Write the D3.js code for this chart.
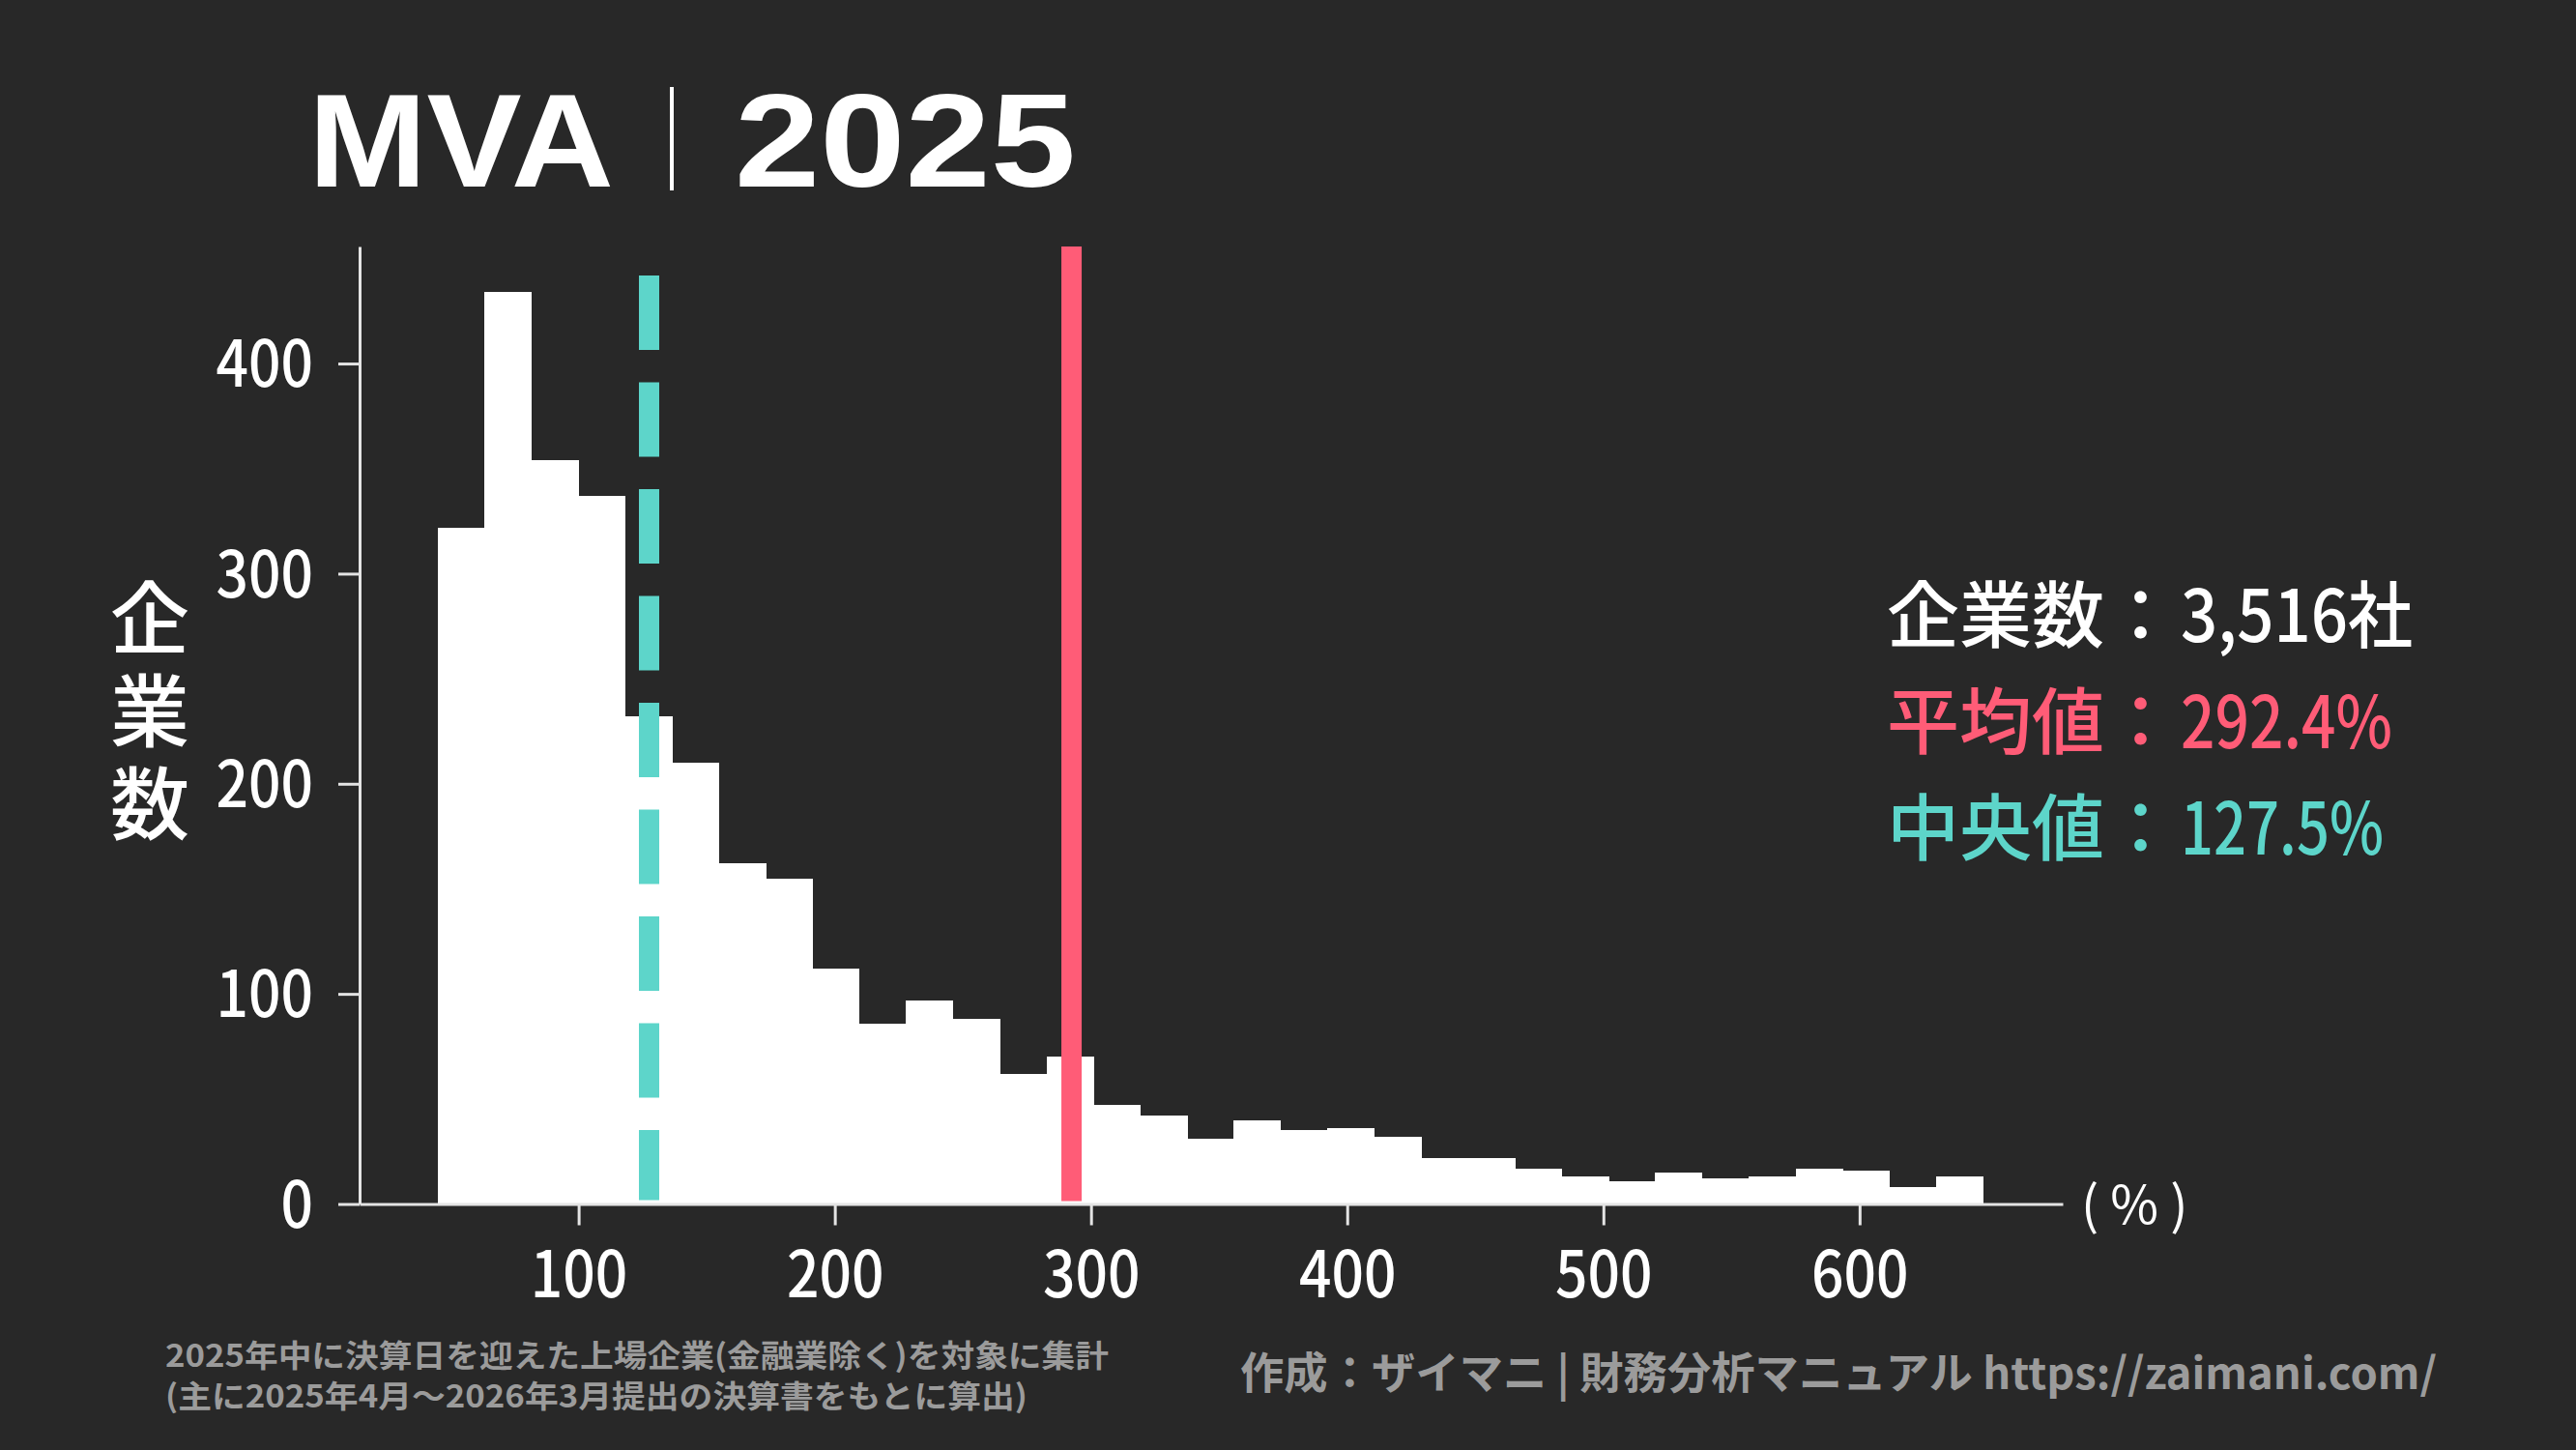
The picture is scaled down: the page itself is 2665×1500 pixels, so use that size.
<!DOCTYPE html>
<html lang="ja">
<head>
<meta charset="utf-8">
<title>MVA 2025</title>
<script src="https://cdn.jsdelivr.net/npm/d3@7"></script>
<style>
  html, body { margin: 0; padding: 0; background: #282828; }
  svg { display: block; }
</style>
</head>
<body>
<svg id="chart" width="2665" height="1500"></svg>
<script>
// ヒストグラムの度数（左から順に33本）
const counts = [322, 434, 354, 337, 232, 210, 162, 155, 112, 86, 97, 88,
                62, 70, 47, 42, 31, 40, 35, 36, 32, 22, 22, 17,
                13, 11, 15, 12, 13, 17, 16, 8, 13];
// ビンの下端と上端（%）
const binRange = [45.0, 648.2];
const xTicks = [100, 200, 300, 400, 500, 600];
const yTicks = [0, 100, 200, 300, 400];
const meanValue = 292.4;
const medianValue = 127.5;
const titleParts = ['MVA', '2025'];
const yLabel = '企業数';
const statLabels = ['企業数：', '平均値：', '中央値：'];
const statValues = ['3,516社', '292.4%', '127.5%'];
const noteLines = ['2025年中に決算日を迎えた上場企業(金融業除く)を対象に集計',
                   '(主に2025年4月～2026年3月提出の決算書をもとに算出)'];
const creditText = '作成：ザイマニ | 財務分析マニュアル https://zaimani.com/';

const JP = '"Noto Sans CJK JP", "Noto Sans", sans-serif';
const WHITE = '#ffffff';
const RED = '#ff5c77';
const TEAL = '#5dd5ca';
const GREY = '#9b9b9b';

const svg = d3.select('#chart');
svg.append('rect').attr('width', 2665).attr('height', 1500).attr('fill', '#282828');

// 軸の範囲
const x = d3.scaleLinear().domain([14.5, 679.3]).range([372, 2134]);
const y = d3.scaleLinear().domain([0, 455.7]).range([1245.5, 255]);

// ビン
const binW = (binRange[1] - binRange[0]) / counts.length;
const bins = counts.map((c, i) => ({ x0: binRange[0] + i * binW, x1: binRange[0] + (i + 1) * binW, c }));

svg.append('g').selectAll('rect')
  .data(bins)
  .join('rect')
  .attr('x', d => x(d.x0))
  .attr('y', d => y(d.c))
  .attr('width', d => x(d.x1) - x(d.x0) + 0.6)
  .attr('height', d => y(0) - y(d.c))
  .attr('fill', WHITE)
  .attr('shape-rendering', 'crispEdges');

// 中央値（破線）と平均値
const [yBottom, yTop] = y.range();
svg.append('line')
  .attr('x1', x(medianValue)).attr('x2', x(medianValue))
  .attr('y1', yTop + 30).attr('y2', yBottom - 4)
  .attr('stroke', TEAL).attr('stroke-width', 21)
  .attr('stroke-dasharray', '77,33.5');

svg.append('line')
  .attr('x1', x(meanValue)).attr('x2', x(meanValue))
  .attr('y1', yTop).attr('y2', yBottom - 3)
  .attr('stroke', RED).attr('stroke-width', 21);

// 軸
const yAxis = svg.append('g')
  .attr('transform', `translate(${x.range()[0]},0)`)
  .call(d3.axisLeft(y).tickValues(yTicks).tickSize(22).tickSizeOuter(0).tickPadding(26));

const xAxis = svg.append('g')
  .attr('transform', `translate(0,${yBottom})`)
  .call(d3.axisBottom(x).tickValues(xTicks).tickSize(22).tickSizeOuter(0).tickPadding(28));

[yAxis, xAxis].forEach(g => {
  g.select('.domain').attr('stroke', '#e4e4e4').attr('stroke-width', 3);
  g.selectAll('.tick line').attr('stroke', '#e4e4e4').attr('stroke-width', 3);
  g.selectAll('.tick text')
    .attr('fill', WHITE)
    .attr('font-family', JP)
    .attr('font-weight', 500)
    .attr('font-size', 66)
    .attr('textLength', d => String(d).length * 33.5)
    .attr('lengthAdjust', 'spacingAndGlyphs');
});
yAxis.selectAll('.tick text').attr('dy', '0.36em');

svg.append('text')
  .attr('x', 2153).attr('y', 1266)
  .attr('fill', WHITE)
  .attr('font-family', JP)
  .attr('font-size', 54)
  .attr('xml:space', 'preserve')
  .text('( % )');

// 縦書きの軸ラベル
svg.append('text')
  .attr('x', 155)
  .attr('y', 742)
  .attr('writing-mode', 'tb')
  .attr('text-anchor', 'middle')
  .attr('letter-spacing', 14)
  .attr('fill', WHITE)
  .attr('font-family', JP)
  .attr('font-weight', 500)
  .attr('font-size', 82)
  .text(yLabel);

// タイトル
const titleG = svg.append('g')
  .attr('fill', WHITE)
  .attr('font-family', '"Liberation Sans", Arial, sans-serif')
  .attr('font-weight', 700)
  .attr('font-size', 137);
titleG.append('text').attr('x', 319).attr('y', 193)
  .attr('textLength', 316).attr('lengthAdjust', 'spacingAndGlyphs')
  .text(titleParts[0]);
titleG.append('text').attr('x', 760).attr('y', 193)
  .attr('textLength', 353).attr('lengthAdjust', 'spacingAndGlyphs')
  .text(titleParts[1]);
svg.append('line')
  .attr('x1', 695).attr('x2', 695).attr('y1', 90).attr('y2', 197)
  .attr('stroke', WHITE).attr('stroke-width', 4);

// 統計値
const statColors = [WHITE, RED, TEAL];
const statWidths = [240, 219, 210];
statLabels.forEach((lab, i) => {
  const yy = 664 + i * 110;
  svg.append('text')
    .attr('x', 1952).attr('y', yy)
    .attr('fill', statColors[i])
    .attr('font-family', JP)
    .attr('font-weight', 500)
    .attr('font-size', 75)
    .text(lab);
  svg.append('text')
    .attr('x', 2256).attr('y', yy)
    .attr('fill', statColors[i])
    .attr('font-family', JP)
    .attr('font-weight', 500)
    .attr('font-size', 75)
    .attr('textLength', statWidths[i])
    .attr('lengthAdjust', 'spacingAndGlyphs')
    .text(statValues[i]);
});

// 注記
const noteWidths = [976, 892];
noteLines.forEach((t, i) => {
  svg.append('text')
    .attr('x', 171).attr('y', 1414 + i * 42)
    .attr('fill', GREY)
    .attr('font-family', JP)
    .attr('font-weight', 700)
    .attr('font-size', 32)
    .attr('textLength', noteWidths[i])
    .attr('lengthAdjust', 'spacingAndGlyphs')
    .text(t);
});

svg.append('text')
  .attr('x', 1283).attr('y', 1437)
  .attr('fill', GREY)
  .attr('font-family', JP)
  .attr('font-weight', 700)
  .attr('font-size', 45)
  .attr('textLength', 1238)
  .attr('lengthAdjust', 'spacingAndGlyphs')
  .text(creditText);
</script>
</body>
</html>
